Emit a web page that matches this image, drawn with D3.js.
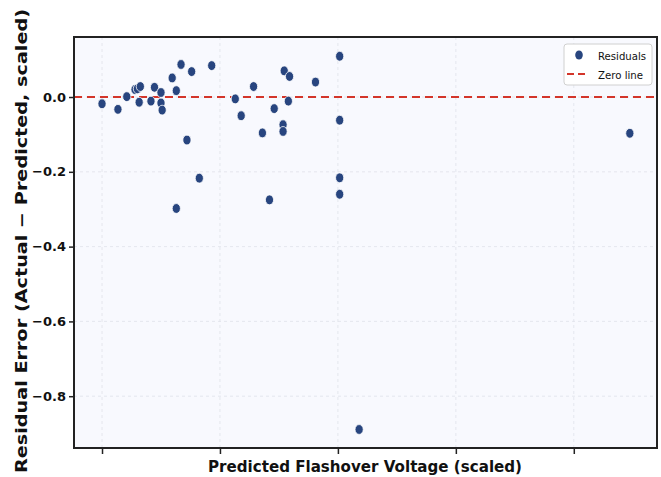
<!DOCTYPE html>
<html>
<head>
<meta charset="utf-8">
<script src="https://cdn.jsdelivr.net/npm/d3@7"></script>
<style>
  body { margin: 0; background: #fff; }
  svg { display: block; }
</style>
</head>
<body>
<div id="chart"></div>
<script>
// predicted (scaled) vs residual
var predicted = [0.000, 0.027, 0.042, 0.056, 0.060, 0.065, 0.063, 0.083, 0.089, 0.100,
                 0.100, 0.102, 0.119, 0.126, 0.134, 0.152, 0.144, 0.165, 0.126, 0.186,
                 0.226, 0.236, 0.257, 0.272, 0.284, 0.292, 0.307, 0.307, 0.309, 0.318,
                 0.316, 0.362, 0.403, 0.403, 0.403, 0.403, 0.436, 0.895];
var residual  = [-0.018, -0.033, 0.001, 0.020, 0.022, 0.028, -0.014, -0.011, 0.026, 0.012,
                 -0.016, -0.035, 0.051, 0.017, 0.087, 0.068, -0.115, -0.217, -0.298, 0.084,
                 -0.005, -0.050, 0.028, -0.096, -0.275, -0.031, -0.074, -0.092, 0.070, 0.055,
                 -0.011, 0.040, 0.109, -0.062, -0.216, -0.260, -0.889, -0.097];
var xTicks = [0, 0.2, 0.4, 0.6, 0.8];
var yTicks = [0, -0.2, -0.4, -0.6, -0.8];
var legendLabels = ["Residuals", "Zero line"];

var W = 661, H = 477;
var margin = {top: 37, right: 4, bottom: 29, left: 74};
var w = W - margin.left - margin.right, h = H - margin.top - margin.bottom;

var svg = d3.select("#chart").append("svg").attr("width", W).attr("height", H);
var g = svg.append("g").attr("transform", "translate(" + margin.left + "," + margin.top + ")");

var x = d3.scaleLinear().domain([-0.0475, 0.9411]).range([0, w]);
var y = d3.scaleLinear().domain([0.1605, -0.9385]).range([0, h]);

g.append("rect").attr("width", w).attr("height", h).attr("fill", "#f8f9fe");

// grid
g.selectAll(".gx").data(xTicks).enter().append("line")
  .attr("x1", d => x(d)).attr("x2", d => x(d)).attr("y1", 0).attr("y2", h)
  .attr("stroke", "#e0e2ea").attr("stroke-width", 0.8).attr("stroke-dasharray", "3,3");
g.selectAll(".gy").data(yTicks).enter().append("line")
  .attr("x1", 0).attr("x2", w).attr("y1", d => y(d)).attr("y2", d => y(d))
  .attr("stroke", "#e0e2ea").attr("stroke-width", 0.8).attr("stroke-dasharray", "3,3");

// zero line
g.append("line").attr("x1", 0).attr("x2", w).attr("y1", y(0)).attr("y2", y(0))
  .attr("stroke", "#d3352a").attr("stroke-width", 2.2).attr("stroke-dasharray", "8,5");

// points
var pts = predicted.map(function (p, i) { return [p, residual[i]]; });
g.selectAll(".pt").data(pts).enter().append("ellipse")
  .attr("cx", d => x(d[0])).attr("cy", d => y(d[1]))
  .attr("rx", 4.1).attr("ry", 4.9)
  .attr("fill", "#28457f").attr("stroke", "#ffffff").attr("stroke-width", 0.8);

// axes
var xAxis = g.append("g").attr("transform", "translate(0," + h + ")")
  .call(d3.axisBottom(x).tickValues(xTicks).tickFormat("").tickSize(6));
var yAxis = g.append("g")
  .call(d3.axisLeft(y).tickValues(yTicks).tickSize(5).tickPadding(3)
    .tickFormat(d => d3.format(".1f")(d).replace("-", "\u2212")));
[xAxis, yAxis].forEach(function (a) {
  a.select(".domain").remove();
  a.selectAll(".tick line").attr("stroke", "#222").attr("stroke-width", 1.5);
});
yAxis.selectAll(".tick text")
  .attr("font-family", "DejaVu Sans").attr("font-weight", "bold")
  .attr("font-size", 13).attr("fill", "#111");

g.append("rect").attr("width", w).attr("height", h)
  .attr("fill", "none").attr("stroke", "#222").attr("stroke-width", 2);

// labels
svg.append("text").attr("x", 365).attr("y", 472).attr("text-anchor", "middle")
  .attr("font-family", "DejaVu Sans").attr("font-weight", "bold").attr("font-size", 16)
  .attr("textLength", 314).attr("lengthAdjust", "spacingAndGlyphs")
  .attr("fill", "#111").text("Predicted Flashover Voltage (scaled)");
svg.append("text").attr("transform", "translate(27,241) rotate(-90)")
  .attr("text-anchor", "middle")
  .attr("font-family", "DejaVu Sans").attr("font-weight", "bold").attr("font-size", 15.5)
  .attr("textLength", 464).attr("lengthAdjust", "spacingAndGlyphs")
  .attr("fill", "#111").text("Residual Error (Actual \u2212 Predicted, scaled)");

// legend
var lg = svg.append("g").attr("transform", "translate(564,44)");
lg.append("rect").attr("width", 88).attr("height", 41).attr("rx", 3)
  .attr("fill", "#fff").attr("stroke", "#d0d0d0").attr("stroke-width", 1);
lg.append("ellipse").attr("cx", 15).attr("cy", 11).attr("rx", 3.8).attr("ry", 4.6)
  .attr("fill", "#28457f");
lg.append("line").attr("x1", 3).attr("x2", 23).attr("y1", 30).attr("y2", 30)
  .attr("stroke", "#d3352a").attr("stroke-width", 2).attr("stroke-dasharray", "7,4");
lg.selectAll(".lt").data(legendLabels).enter().append("text")
  .attr("x", 34).attr("y", (d, i) => 16 + i * 19)
  .attr("font-family", "DejaVu Sans").attr("font-size", 11)
  .attr("textLength", (d, i) => i === 0 ? 48 : 45).attr("lengthAdjust", "spacingAndGlyphs")
  .attr("fill", "#111").text(d => d);
</script>
</body>
</html>
